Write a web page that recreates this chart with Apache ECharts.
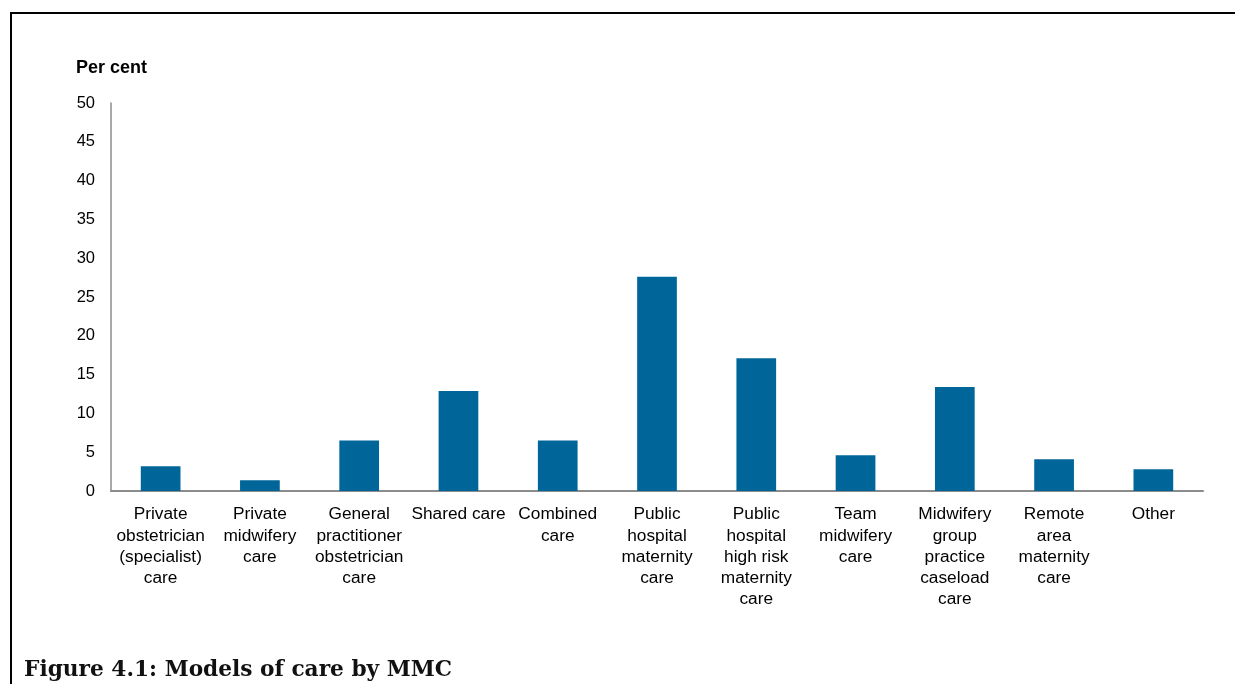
<!DOCTYPE html>
<html>
<head>
<meta charset="utf-8">
<script src="https://cdn.jsdelivr.net/npm/echarts@6/dist/echarts.min.js"></script>
<style>
  html,body{margin:0;padding:0;background:#fff;}
  #wrap{position:absolute;left:0;top:0;width:1235px;height:684px;}
  #bl{position:absolute;left:10px;top:12px;width:2px;height:672px;background:#000;}
  #bt{position:absolute;left:10px;top:12px;width:1225px;height:2px;background:#000;}
  #chart{position:absolute;left:0;top:0;width:1235px;height:684px;}
</style>
</head>
<body>
<div id="wrap">
  <div id="chart"></div>
  <div id="bl"></div>
  <div id="bt"></div>
</div>
<script>
const categories = [
  "Private\nobstetrician\n(specialist)\ncare",
  "Private\nmidwifery\ncare",
  "General\npractitioner\nobstetrician\ncare",
  "Shared care",
  "Combined\ncare",
  "Public\nhospital\nmaternity\ncare",
  "Public\nhospital\nhigh risk\nmaternity\ncare",
  "Team\nmidwifery\ncare",
  "Midwifery\ngroup\npractice\ncaseload\ncare",
  "Remote\narea\nmaternity\ncare",
  "Other"
];
const values = [3.2, 1.4, 6.5, 12.9, 6.5, 27.6, 17.1, 4.6, 13.4, 4.1, 2.8];
const yTitle = "Per cent";
const chartTitle = "Figure 4.1: Models of care by MMC";

const chart = echarts.init(document.getElementById('chart'), null, {renderer:'canvas'});
chart.setOption({
  animation:false,
  backgroundColor:'#fff',
  title:{
    text: chartTitle,
    left: 19, top: 654,
    textStyle:{fontFamily:'"DejaVu Serif", serif', fontWeight:'bold', fontSize:21.7, color:'#111'}
  },
  grid:{left:111, right:32, top:103, bottom:193, containLabel:false},
  xAxis:{
    type:'category',
    data: categories,
    axisLine:{show:true, lineStyle:{color:'#8c8c8c', width:2}},
    axisTick:{show:false},
    axisLabel:{interval:0, margin:13, fontFamily:'"Liberation Sans", Arial, sans-serif', fontSize:17.3, color:'#000', lineHeight:21.2}
  },
  yAxis:{
    type:'value',
    min:0, max:50, interval:5,
    name: yTitle,
    nameLocation:'end',
    nameGap: 26,
    nameTextStyle:{fontFamily:'"Liberation Sans", Arial, sans-serif', fontWeight:'bold', fontSize:18, color:'#000', align:'left', padding:[0,0,0,-35]},
    axisLine:{show:true, lineStyle:{color:'#8c8c8c', width:1.5}},
    axisTick:{show:false},
    splitLine:{show:false},
    axisLabel:{margin:16, fontFamily:'"Liberation Sans", Arial, sans-serif', fontSize:16.5, color:'#000'}
  },
  series:[{
    type:'bar',
    data: values,
    barWidth:'40%',
    itemStyle:{color:'#00669a'}
  }]
});
</script>
</body>
</html>
